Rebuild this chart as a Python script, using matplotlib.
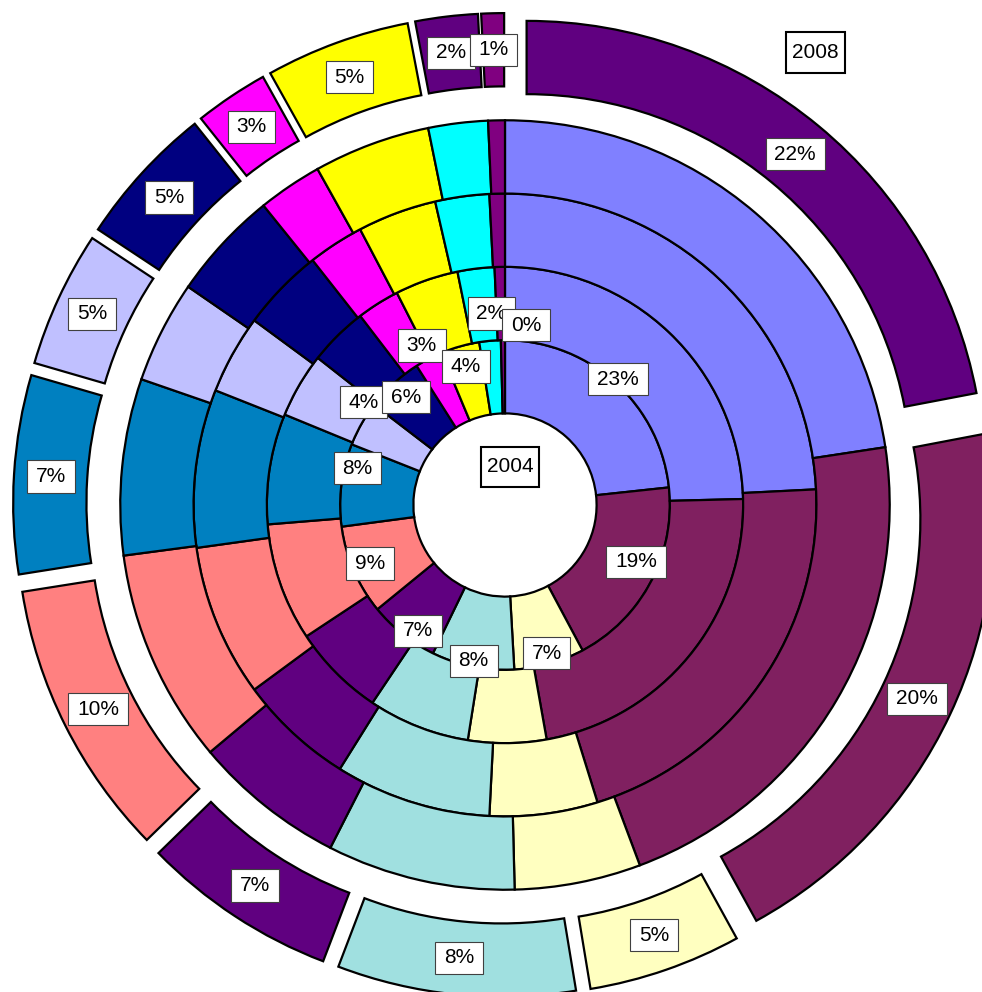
import numpy as np
import matplotlib.pyplot as plt
from matplotlib.path import Path

plt.rcParams['font.family'] = ['Liberation Sans', 'DejaVu Sans']

# ---- data (percent per category, clockwise from 12 o'clock) ----
s2004 = [23.3, 18.9, 6.9, 8.1, 6.9, 8.8, 8.1, 4.4, 5.6, 2.7, 3.8, 2.1, 0.4]
s2005 = [24.6, 22.6, 5.3, 6.9, 6.3, 8.0, 7.5, 4.4, 4.0, 2.9, 4.3, 2.5, 0.7]
s2006 = [24.2, 21.0, 5.6, 8.1, 6.0, 7.9, 8.2, 4.1, 4.3, 2.9, 4.1, 2.8, 0.8]
s2007 = [22.6, 21.7, 5.3, 7.9, 6.4, 9.0, 7.4, 4.3, 4.6, 2.7, 4.9, 2.5, 0.7]
s2008 = [22.0, 20.0, 5.4, 8.4, 6.9, 9.8, 7.0, 4.8, 5.0, 2.6, 5.1, 2.2, 0.8]

pal = ['#8080FF', '#802060', '#FFFFC0', '#A0E0E0', '#600080', '#FF8080', '#0080C0',
       '#C0C0FF', '#000080', '#FF00FF', '#FFFF00', '#00FFFF', '#800080']
pal2008 = ['#600080', '#802060', '#FFFFC0', '#A0E0E0', '#600080', '#FF8080', '#0080C0',
           '#C0C0FF', '#000080', '#FF00FF', '#FFFF00', '#600080', '#800080']

rings = [s2004, s2005, s2006, s2007, s2008]
ring_cols = [pal, pal, pal, pal, pal2008]

# label placement tweaks for the crowded inner ring
lab_r_2004 = [0.369, 0.312, 0.336, 0.347, 0.334, 0.321, 0.332, 0.382, 0.319, 0.393, 0.314, 0.419, 0.395]
lab_da_2004 = [0, -4.4, 0, 0, -3.7, 0, 7, 6.5, 0, 0, 0, 1.2, 7.4]

W = 0.16
EXPL = 0.074


def make_box(padx, pady):
    def box(x0, y0, width, height, mutation_size):
        px = padx * mutation_size
        py = pady * mutation_size
        xa, ya = x0 - px, y0 - py
        xb, yb = x0 + width + px, y0 + height + py
        return Path([(xa, ya), (xb, ya), (xb, yb), (xa, yb), (xa, ya)], closed=True)
    return box


def mids(vals):
    v = np.array(vals) / np.sum(vals) * 360.0
    c = np.cumsum(v)
    return c - v / 2


def xy(ang, r):
    t = np.deg2rad(90 - ang)
    return r * np.cos(t), r * np.sin(t)


fig = plt.figure(figsize=(9.82, 9.92), dpi=100)
ax = fig.add_axes([0, 0, 1, 1])

for i, (vals, cols) in enumerate(zip(rings, ring_cols)):
    expl = [EXPL] * len(vals) if i == 4 else None
    ax.pie(vals, radius=0.36 + W * i, colors=cols, startangle=90, counterclock=False,
           explode=expl, wedgeprops=dict(width=W, edgecolor='black', linewidth=1.6))

lab_box = dict(boxstyle=make_box(0.42, 0.32), fc='white', ec='#404040', lw=0.8)

# inner ring labels
pct = np.array(s2004) / np.sum(s2004) * 100
for a, p, r, da in zip(mids(s2004), pct, lab_r_2004, lab_da_2004):
    x, y = xy(a + da, r)
    ax.text(x, y, '%d%%' % round(p), ha='center', va='center', fontsize=15,
            bbox=lab_box, zorder=10)

# outer ring labels
pct = np.array(s2008) / np.sum(s2008) * 100
for a, p in zip(mids(s2008), pct):
    x, y = xy(a, 0.36 + W * 4 - W / 2 + EXPL)
    ax.text(x, y, '%d%%' % round(p), ha='center', va='center', fontsize=15,
            bbox=lab_box, zorder=10)

yr_box = dict(boxstyle=make_box(0.28, 0.52), fc='white', ec='black', lw=1.5)
ax.text(0.011, 0.083, '2004', ha='center', va='center', fontsize=15, bbox=yr_box, zorder=10)
ax.text(0.678, 0.988, '2008', ha='center', va='center', fontsize=15, bbox=yr_box, zorder=10)

ax.set_xlim(-1.1026, 1.0415)
ax.set_ylim(-1.0633, 1.1026)
ax.set_aspect('equal')
ax.axis('off')

fig.savefig('out.png', dpi=100)
